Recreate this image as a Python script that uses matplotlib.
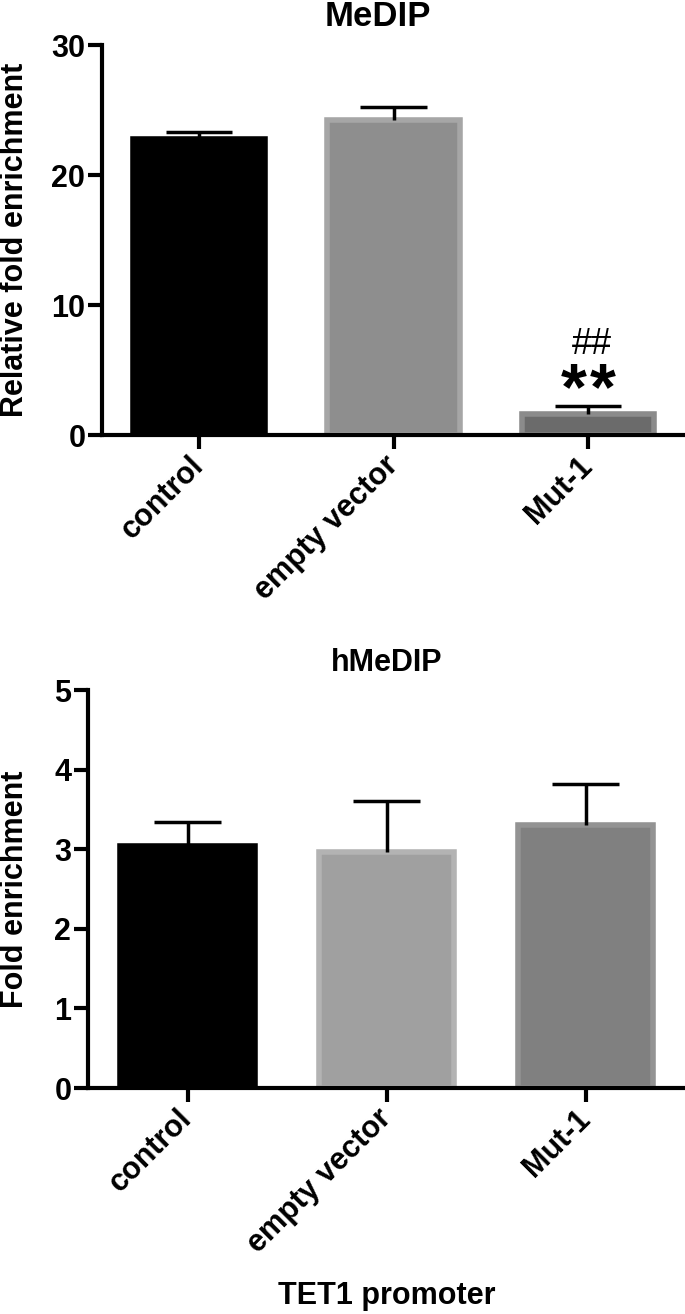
import matplotlib.pyplot as plt

plt.rcParams['font.family'] = ['Liberation Sans', 'DejaVu Sans']
plt.rcParams['font.weight'] = 'bold'
plt.rcParams['axes.labelweight'] = 'bold'

# data
groups = ['control', 'empty vector', 'Mut-1']
medip_mean = [22.8, 24.2, 1.6]
medip_sem = [0.5, 1.05, 0.6]
hmedip_mean = [3.04, 2.97, 3.30]
hmedip_sem = [0.30, 0.63, 0.52]

medip_faces = ['#000000', '#8e8e8e', '#6b6b6b']
medip_edges = ['#000000', '#a6a6a6', '#8b8b8b']
hmedip_faces = ['#000000', '#a0a0a0', '#808080']
hmedip_edges = ['#000000', '#b3b3b3', '#939393']

W, H = 685, 1314
fig = plt.figure(figsize=(W / 100, H / 100), dpi=100)
ax1 = fig.add_axes([102 / W, 1 - 435 / H, 583 / W, 390 / H])
ax2 = fig.add_axes([88 / W, 1 - 1088 / H, 597 / W, 398 / H])


def draw(ax, means, sems, faces, edges, yticks, ylabel, xlab_x):
    x = list(range(len(groups)))
    tops = [m + s for m, s in zip(means, sems)]
    ax.bar(x, means, width=0.68, color=faces, edgecolor=edges,
           linewidth=4, zorder=2)
    ax.vlines(x, means, tops, color='black', linewidth=2.5, zorder=3)
    ax.hlines(tops, [i - 0.17 for i in x], [i + 0.17 for i in x],
              color='black', linewidth=2.5, zorder=3)
    ax.set_xlim(-0.5, 2.5)
    ax.set_ylim(yticks[0], yticks[-1])
    ax.set_yticks(yticks)
    ax.set_xticks(x)
    ax.set_xticklabels(groups, rotation=45, ha='right', va='center',
                       rotation_mode='anchor', fontsize=22)
    for s in ['top', 'right']:
        ax.spines[s].set_visible(False)
    for s in ['left', 'bottom']:
        ax.spines[s].set_linewidth(3)
        ax.spines[s].set_zorder(4)
    ax.tick_params(axis='y', width=3, length=10, labelsize=22, pad=2)
    ax.tick_params(axis='x', width=3, length=10, pad=9)
    ax.set_ylabel(ylabel, fontsize=22)
    ax.yaxis.label.set_va('center')
    ax.yaxis.set_label_coords(xlab_x, 0.5)


draw(ax1, medip_mean, medip_sem, medip_faces, medip_edges,
     [0, 10, 20, 30], 'Relative fold enrichment', (15 - 102) / 583)
draw(ax2, hmedip_mean, hmedip_sem, hmedip_faces, hmedip_edges,
     [0, 1, 2, 3, 4, 5], 'Fold enrichment', (15 - 88) / 597)

ax1.text(0.474, 1.072, 'MeDIP', transform=ax1.transAxes, ha='center',
         va='center', fontsize=25)
ax2.text(0.5, 1.068, 'hMeDIP', transform=ax2.transAxes, ha='center',
         va='center', fontsize=22)

# significance marks over Mut-1
for dx in (-0.075, 0.075):
    ax1.text(2 + dx, 2.0, '*', ha='center', va='baseline', fontsize=48)
ax1.text(2.02, 6.2, '##', ha='center', va='baseline', fontsize=26,
         fontweight='normal')

ax2.set_xlabel('TET1 promoter', fontsize=22)
ax2.xaxis.label.set_va('center')
ax2.xaxis.set_label_coords(0.5, (1088 - 1296) / 398)

fig.savefig('out.png', dpi=100)
